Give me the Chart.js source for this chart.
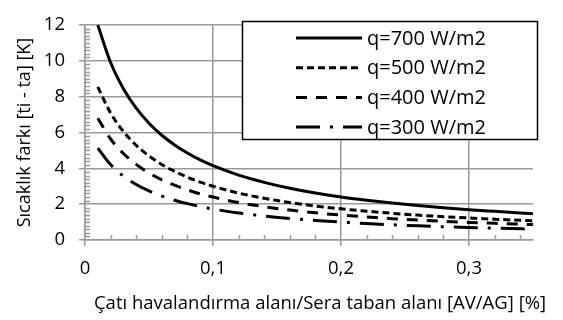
<!DOCTYPE html>
<html>
<head>
<meta charset="utf-8">
<script src="https://cdn.jsdelivr.net/npm/chart.js@4"></script>
<style>
  html, body { margin: 0; padding: 0; background: #fff; }
</style>
</head>
<body>
<canvas id="chart" width="563" height="320"></canvas>
<script>
// Chart data
const ratios = [0.01, 0.02, 0.03, 0.04, 0.05, 0.06, 0.07, 0.08, 0.09, 0.10,
                0.12, 0.14, 0.16, 0.18, 0.20, 0.22, 0.24, 0.26, 0.28, 0.30, 0.32, 0.35];
const q700 = [12.0, 9.91, 8.45, 7.36, 6.52, 5.85, 5.31, 4.86, 4.47, 4.15,
              3.62, 3.22, 2.89, 2.62, 2.40, 2.22, 2.06, 1.92, 1.80, 1.69, 1.60, 1.47];
const q500 = [8.55, 7.09, 6.06, 5.29, 4.69, 4.22, 3.83, 3.51, 3.23, 3.00,
              2.62, 2.33, 2.09, 1.90, 1.74, 1.61, 1.49, 1.39, 1.30, 1.23, 1.16, 1.07];
const q400 = [6.80, 5.64, 4.83, 4.22, 3.74, 3.36, 3.06, 2.80, 2.58, 2.40,
              2.09, 1.86, 1.67, 1.52, 1.39, 1.29, 1.19, 1.11, 1.04, 0.98, 0.93, 0.86];
const q300 = [5.13, 4.21, 3.57, 3.10, 2.74, 2.45, 2.22, 2.03, 1.87, 1.73,
              1.51, 1.34, 1.20, 1.09, 1.00, 0.92, 0.85, 0.79, 0.74, 0.70, 0.66, 0.61];
const seriesLabels = ['q=700 W/m2', 'q=500 W/m2', 'q=400 W/m2', 'q=300 W/m2'];
const xTitle = 'Çatı havalandırma alanı/Sera taban alanı [AV/AG] [%]';
const yTitle = 'Sıcaklık farkı [ti - ta] [K]';

const FONT = '"Open Sans", "DejaVu Sans", sans-serif';
const GRID = '#9a9a9a';

function points(ys) {
    return ratios.map((x, i) => ({ x: x, y: ys[i] }));
}

function makeSet(label, ys, dash) {
    return {
        label: label,
        data: points(ys),
        borderColor: '#000',
        borderWidth: 3,
        borderDash: dash,
        borderCapStyle: 'butt',
        pointRadius: 0,
        fill: false,
        cubicInterpolationMode: 'monotone',
    };
}

// minor tick marks inside the plot area
const minorTicks = {
    id: 'minorTicks',
    beforeDatasetsDraw(chart) {
        const ctx = chart.ctx;
        const xs = chart.scales.x, ys = chart.scales.y;
        const area = chart.chartArea;
        ctx.save();
        ctx.strokeStyle = GRID;
        ctx.lineWidth = 1.5;
        ctx.beginPath();
        for (let i = 1; i < 60; i++) {
            if (i % 10 === 0) continue;
            const py = Math.round(ys.getPixelForValue(i * 0.2)) + 0.5;
            ctx.moveTo(area.left, py);
            ctx.lineTo(area.left + 5, py);
        }
        for (let i = 1; i <= 17; i++) {
            if (i % 5 === 0) continue;
            const px = Math.round(xs.getPixelForValue(i * 0.02)) + 0.5;
            ctx.moveTo(px, area.bottom);
            ctx.lineTo(px, area.bottom - 5);
        }
        ctx.stroke();
        ctx.restore();
    }
};

// boxed legend inside the plot + x axis title
const boxLegend = {
    id: 'boxLegend',
    afterDraw(chart) {
        const ctx = chart.ctx;
        ctx.save();
        ctx.fillStyle = '#fff';
        ctx.fillRect(242, 21, 296, 119);
        ctx.strokeStyle = '#000';
        ctx.lineWidth = 1.5;
        ctx.strokeRect(242.5, 21.5, 295, 118);

        ctx.font = '20px ' + FONT;
        ctx.textBaseline = 'middle';
        ctx.textAlign = 'left';
        chart.data.datasets.forEach((ds, i) => {
            const y = 38 + i * 29.7;
            ctx.beginPath();
            ctx.strokeStyle = ds.borderColor;
            ctx.lineWidth = ds.borderWidth;
            ctx.lineCap = 'butt';
            ctx.setLineDash(ds.borderDash || []);
            ctx.moveTo(296, y);
            ctx.lineTo(362, y);
            ctx.stroke();
            ctx.setLineDash([]);
            ctx.fillStyle = '#000';
            ctx.fillText(ds.label, 367, y + 1);
        });

        ctx.font = '18.5px ' + FONT;
        ctx.fillStyle = '#000';
        ctx.textAlign = 'center';
        ctx.fillText(xTitle, 320, 304);
        ctx.restore();
    }
};

const ctx = document.getElementById('chart').getContext('2d');
new Chart(ctx, {
    type: 'line',
    data: {
        datasets: [
            makeSet(seriesLabels[0], q700, []),
            makeSet(seriesLabels[1], q500, [7, 4]),
            makeSet(seriesLabels[2], q400, [11, 9]),
            makeSet(seriesLabels[3], q300, [24, 10, 3, 10]),
        ],
    },
    options: {
        responsive: false,
        animation: false,
        devicePixelRatio: 1,
        layout: { padding: { top: 14, right: 30, left: 0, bottom: 0 } },
        plugins: {
            legend: { display: false },
            tooltip: { enabled: false },
        },
        scales: {
            x: {
                type: 'linear',
                min: 0,
                max: 0.35,
                afterFit(scale) { scale.height = 80; },
                ticks: {
                    stepSize: 0.1,
                    includeBounds: false,
                    padding: 12,
                    color: '#000',
                    font: { family: FONT, size: 18.5 },
                    callback: v => String(Math.round(v * 10) / 10).replace('.', ','),
                },
                grid: { color: GRID, lineWidth: 1.5, tickLength: 6 },
                border: { color: GRID, width: 1.5 },
            },
            y: {
                min: 0,
                max: 12,
                afterFit(scale) { scale.width = 85; },
                ticks: {
                    stepSize: 2,
                    padding: 14,
                    color: '#000',
                    font: { family: FONT, size: 18.5 },
                },
                grid: { color: GRID, lineWidth: 1.5, tickLength: 6 },
                border: { color: GRID, width: 1.5 },
                title: {
                    display: true,
                    text: yTitle,
                    color: '#000',
                    font: { family: FONT, size: 18 },
                    padding: { top: 14, bottom: 0 },
                },
            },
        },
    },
    plugins: [minorTicks, boxLegend],
});
</script>
</body>
</html>
